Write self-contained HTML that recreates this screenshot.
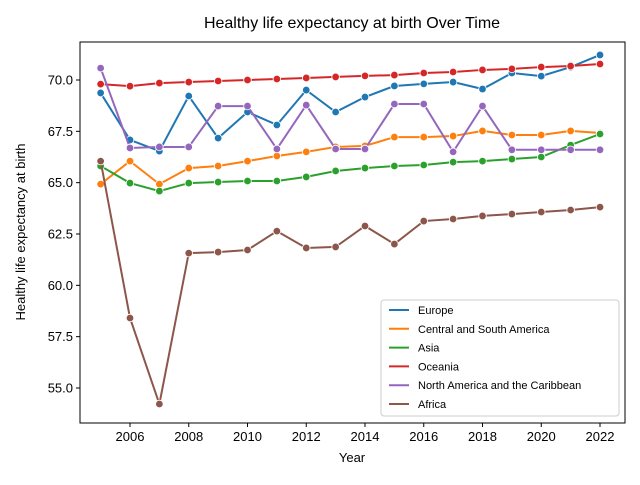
<!DOCTYPE html>
<html><head><meta charset="utf-8"><style>body{margin:0;background:#fff}svg{font-family:"Liberation Sans","DejaVu Sans",sans-serif}</style></head>
<body>
<svg id="c" width="640" height="480"></svg>
<script>
const years=[2005,2006,2007,2008,2009,2010,2011,2012,2013,2014,2015,2016,2017,2018,2019,2020,2021,2022];
const seriesNames=["Europe","Central and South America","Asia","Oceania","North America and the Caribbean","Africa"];
const colors=["#1f77b4","#ff7f0e","#2ca02c","#d62728","#9467bd","#8c564b"];
const europe=[69.37,67.08,66.54,69.22,67.17,68.44,67.81,69.51,68.44,69.17,69.71,69.81,69.9,69.56,70.34,70.19,70.63,71.22];
const csa=[64.93,66.05,64.93,65.71,65.81,66.05,66.3,66.5,66.74,66.79,67.22,67.22,67.27,67.52,67.32,67.32,67.52,67.42];
const asia=[65.81,64.98,64.59,64.98,65.03,65.08,65.08,65.28,65.57,65.71,65.81,65.86,66.0,66.05,66.15,66.25,66.83,67.37];
const oceania=[69.8,69.7,69.85,69.9,69.95,70.0,70.05,70.1,70.15,70.2,70.24,70.34,70.39,70.49,70.54,70.63,70.68,70.78];
const nac=[70.58,66.69,66.74,66.74,68.73,68.73,66.64,68.78,66.64,66.64,68.83,68.83,66.5,68.73,66.6,66.6,66.6,66.6];
const africa=[66.05,58.41,54.22,61.57,61.62,61.72,62.64,61.82,61.87,62.89,62.01,63.13,63.23,63.38,63.47,63.57,63.67,63.81];
const xTicks=[2006,2008,2010,2012,2014,2016,2018,2020,2022];
const yTicks=[55.0,57.5,60.0,62.5,65.0,67.5,70.0];
const allSeries=[europe,csa,asia,oceania,nac,africa];
const NS="http://www.w3.org/2000/svg";
const svg=document.getElementById('c');
const L=80,R=625,T=42,B=423;
const x=v=>130+(v-2006)*29.375;
const y=v=>80+(70-v)*20.533;
function mk(t,a,p){const e=document.createElementNS(NS,t);for(const k in a)e.setAttribute(k,a[k]);(p||svg).appendChild(e);return e;}
const title=mk('text',{x:352,y:28,'text-anchor':'middle','font-size':16,fill:'#000'});title.textContent="Healthy life expectancy at birth Over Time";


xTicks.forEach(t=>{mk('line',{x1:x(t),x2:x(t),y1:B,y2:B+4,stroke:'#000'});const tx=mk('text',{x:x(t),y:B+18,'text-anchor':'middle','font-size':13});tx.textContent=t;

});
yTicks.forEach(t=>{mk('line',{x1:L-4,x2:L,y1:y(t),y2:y(t),stroke:'#000'});const tx=mk('text',{x:L-7,y:y(t)+4.5,'text-anchor':'end','font-size':13});tx.textContent=t.toFixed(1);

});
const xl=mk('text',{x:352,y:462,'text-anchor':'middle','font-size':13});xl.textContent="Year";


const yl=mk('text',{x:25,y:232,'text-anchor':'middle','font-size':13,transform:'rotate(-90 25 232)'});yl.textContent="Healthy life expectancy at birth";


allSeries.forEach((s,i)=>{
 const g=mk('g',{});
 
 
 mk('polyline',{points:s.map((v,j)=>x(years[j])+','+y(v)).join(' '),fill:'none',stroke:colors[i],'stroke-width':2},g);
 s.forEach((v,j)=>{const c=mk('circle',{cx:x(years[j]),cy:y(v),r:3.8,fill:colors[i],stroke:'#fff','stroke-width':0.8},g);
 
 });
});
const frame=mk('rect',{x:L,y:T,width:R-L,height:B-T,fill:'none',stroke:'#000','stroke-width':1});


const lg=mk('g',{});


mk('rect',{x:381,y:300,width:238,height:116,rx:3,fill:'#fff','fill-opacity':0.8,stroke:'#ccc'},lg);
seriesNames.forEach((n,i)=>{const yy=310+i*18.8;
 mk('line',{x1:389,x2:409,y1:yy,y2:yy,stroke:colors[i],'stroke-width':2},lg);
 const t=mk('text',{x:418,y:yy+4,'font-size':11},lg);t.textContent=n;
 
 });
</script>
</body></html>
